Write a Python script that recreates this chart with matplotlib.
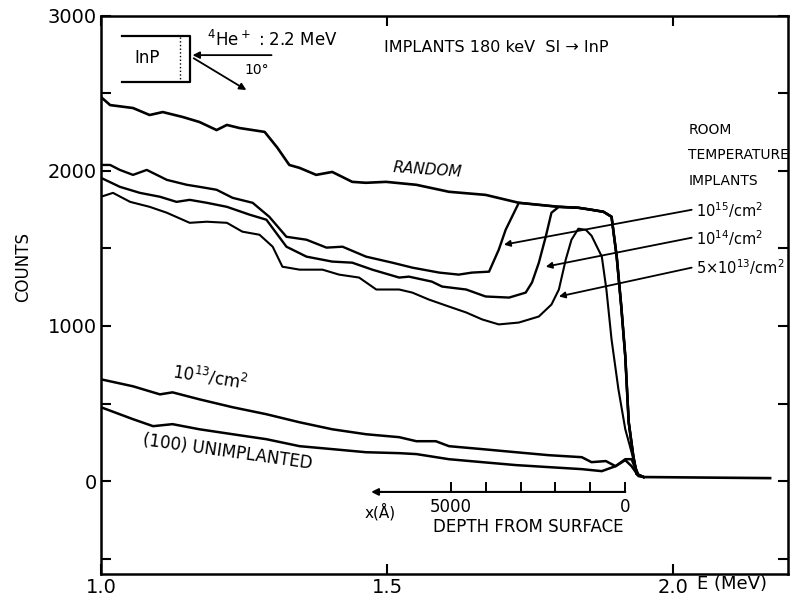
import matplotlib.pyplot as plt

# backscattering spectra: energy (MeV) and counts
random_E = [1.000, 1.016, 1.056, 1.085, 1.108, 1.143, 1.172, 1.202, 1.220, 1.242,
            1.286, 1.308, 1.329, 1.347, 1.376, 1.404, 1.439, 1.463, 1.498, 1.551,
            1.608, 1.672, 1.730, 1.765, 1.800, 1.834, 1.857, 1.878, 1.892, 1.901,
            1.909, 1.916, 1.922, 1.930, 1.936, 1.948, 2.169]
random_C = [2476, 2424, 2405, 2360, 2379, 2347, 2315, 2263, 2296, 2276,
            2251, 2150, 2038, 2019, 1974, 1993, 1929, 1923, 1929, 1910,
            1865, 1845, 1794, 1781, 1768, 1762, 1749, 1736, 1704, 1447,
            1125, 804, 379, 161, 45, 26, 19]

dose15_E = [1.000, 1.016, 1.033, 1.056, 1.080, 1.115, 1.150, 1.172, 1.202, 1.230,
            1.265, 1.294, 1.324, 1.359, 1.394, 1.422, 1.463, 1.509, 1.544, 1.591,
            1.625, 1.648, 1.678, 1.695, 1.707, 1.730, 1.765, 1.800, 1.834, 1.857,
            1.878, 1.892, 1.901, 1.909, 1.916, 1.922, 1.930, 1.936, 1.948]
dose15_C = [2038, 2038, 2006, 1974, 2006, 1942, 1910, 1897, 1878, 1826,
            1794, 1704, 1575, 1556, 1505, 1511, 1447, 1408, 1376, 1344,
            1331, 1344, 1350, 1492, 1620, 1794, 1781, 1768, 1762, 1749,
            1736, 1704, 1447, 1125, 804, 379, 161, 45, 26]

dose14_E = [1.000, 1.033, 1.068, 1.103, 1.132, 1.155, 1.185, 1.220, 1.260, 1.289,
            1.324, 1.359, 1.404, 1.439, 1.474, 1.521, 1.538, 1.578, 1.596, 1.638,
            1.672, 1.713, 1.742, 1.753, 1.765, 1.777, 1.787, 1.800, 1.834, 1.857,
            1.878, 1.892, 1.901, 1.909, 1.916, 1.922, 1.930, 1.936, 1.948]
dose14_C = [1955, 1897, 1858, 1833, 1800, 1813, 1794, 1768, 1717, 1685,
            1511, 1447, 1415, 1408, 1363, 1312, 1318, 1286, 1254, 1235,
            1190, 1183, 1215, 1280, 1408, 1575, 1730, 1768, 1762, 1749,
            1736, 1704, 1447, 1125, 804, 379, 161, 45, 26]

dose5e13_E = [1.000, 1.021, 1.051, 1.085, 1.115, 1.155, 1.185, 1.220, 1.247, 1.277,
              1.300, 1.317, 1.347, 1.387, 1.416, 1.451, 1.481, 1.521, 1.544, 1.573,
              1.608, 1.638, 1.666, 1.695, 1.730, 1.765, 1.787, 1.800, 1.812, 1.822,
              1.834, 1.847, 1.857, 1.875, 1.883, 1.892, 1.904, 1.916, 1.927, 1.932,
              1.939, 1.948]
dose5e13_C = [1833, 1858, 1800, 1768, 1730, 1665, 1672, 1665, 1608, 1588,
              1511, 1382, 1363, 1363, 1331, 1312, 1235, 1235, 1215, 1170,
              1125, 1087, 1042, 1010, 1022, 1061, 1138, 1235, 1428, 1556,
              1627, 1620, 1582, 1447, 1235, 913, 592, 334, 186, 109,
              39, 26]

dose13_E = [1.000, 1.056, 1.103, 1.125, 1.172, 1.230, 1.289, 1.347, 1.404, 1.463,
            1.521, 1.551, 1.585, 1.608, 1.666, 1.725, 1.782, 1.840, 1.857, 1.882,
            1.899, 1.916, 1.927, 1.932, 1.939, 1.948]
dose13_C = [656, 611, 559, 572, 527, 476, 431, 379, 334, 302,
            283, 257, 257, 225, 206, 186, 167, 154, 122, 129,
            96, 141, 141, 96, 39, 26]

unimpl_E = [1.000, 1.056, 1.091, 1.125, 1.172, 1.230, 1.289, 1.347, 1.404, 1.463,
            1.521, 1.551, 1.608, 1.666, 1.725, 1.782, 1.840, 1.875, 1.899, 1.916,
            1.927, 1.939, 1.948]
unimpl_C = [476, 399, 354, 367, 334, 302, 270, 225, 206, 186,
            180, 174, 141, 122, 103, 90, 77, 64, 96, 135,
            96, 32, 26]

# depth scale under the spectra (angstrom)
depth_ticks = [0, 1000, 2000, 3000, 4000, 5000]
surface_E = 1.916
mev_per_angstrom = 0.061 / 1000

plt.rcParams['font.family'] = 'DejaVu Sans'

fig = plt.figure(figsize=(7.95, 6.05), dpi=100)
ax = fig.add_axes([0.127, 0.051, 0.864, 0.923])

ax.plot(random_E, random_C, color='k', lw=1.9)
ax.plot(dose15_E, dose15_C, color='k', lw=1.7)
ax.plot(dose14_E, dose14_C, color='k', lw=1.7)
ax.plot(dose5e13_E, dose5e13_C, color='k', lw=1.5)
ax.plot(dose13_E, dose13_C, color='k', lw=1.8)
ax.plot(unimpl_E, unimpl_C, color='k', lw=1.8)

ax.set_xlim(1.0, 2.2)
ax.set_ylim(-600, 3000)
ax.set_xticks([1.0, 1.5, 2.0])
ax.set_xticklabels(['1.0', '1.5', '2.0'])
ax.set_yticks([0, 1000, 2000, 3000])
ax.set_yticks([-500, 500, 1500, 2500], minor=True)
ax.tick_params(which='both', direction='in', top=True, right=True,
               length=7, width=1.5, labelsize=14, pad=3, colors='k')
for s in ax.spines.values():
    s.set_linewidth(1.8)

ax.set_ylabel('COUNTS', fontsize=12)
ax.yaxis.set_label_coords(-0.10, 0.55)
ax.text(0.868, -0.018, 'E (MeV)', transform=ax.transAxes, fontsize=13,
        ha='left', va='center')

# labels on the curves
ax.text(1.571, 2006, 'RANDOM', fontsize=11, style='italic', rotation=-4,
        ha='center', va='center')
ax.text(1.190, 669, '10$^{13}$/cm$^2$', fontsize=12, rotation=-9,
        ha='center', va='center')
ax.text(1.221, 186, '(100) UNIMPLANTED', fontsize=12, rotation=-8,
        ha='center', va='center')

ax.text(1.495, 2797, 'IMPLANTS 180 keV  SI \u2192 InP', fontsize=11.5,
        ha='left', va='center')
ax.text(2.026, 2263, 'ROOM', fontsize=10, ha='left', va='center')
ax.text(2.026, 2103, 'TEMPERATURE', fontsize=10, ha='left', va='center')
ax.text(2.026, 1936, 'IMPLANTS', fontsize=10, ha='left', va='center')

dose_labels = ['10$^{15}$/cm$^2$', '10$^{14}$/cm$^2$', '5\u00d710$^{13}$/cm$^2$']
label_C = [1749, 1569, 1376]
head_E = [1.704, 1.777, 1.800]
head_C = [1524, 1382, 1190]
for lab, lc, he, hc in zip(dose_labels, label_C, head_E, head_C):
    ax.text(2.040, lc, lab, fontsize=10.5, ha='left', va='center')
    ax.annotate('', xy=(he, hc), xytext=(2.032, lc),
                arrowprops=dict(arrowstyle='-|>', color='k', lw=1.3,
                                mutation_scale=9, shrinkA=0, shrinkB=0))

# target sketch in the top left corner
ax.plot([1.037, 1.155, 1.155, 1.037], [2868, 2868, 2572, 2572], color='k', lw=1.6)
ax.plot([1.138, 1.138], [2860, 2580], color='k', lw=1.0, ls=':')
ax.text(1.080, 2726, 'InP', fontsize=12, ha='center', va='center')
ax.annotate('', xy=(1.160, 2746), xytext=(1.298, 2746),
            arrowprops=dict(arrowstyle='-|>', color='k', lw=1.3,
                            mutation_scale=10, shrinkA=0, shrinkB=0))
ax.annotate('', xy=(1.254, 2521), xytext=(1.162, 2726),
            arrowprops=dict(arrowstyle='-|>', color='k', lw=1.3,
                            mutation_scale=10, shrinkA=0, shrinkB=0))
ax.text(1.185, 2842, '$^4$He$^+$ : 2.2 MeV', fontsize=12, ha='left', va='center')
ax.text(1.272, 2649, '10\u00b0', fontsize=10, ha='center', va='center')

# depth scale
depth_E = [surface_E - d * mev_per_angstrom for d in depth_ticks]
ax.annotate('', xy=(1.472, -70), xytext=(surface_E, -70),
            arrowprops=dict(arrowstyle='-|>', color='k', lw=1.5,
                            mutation_scale=10, shrinkA=0, shrinkB=0))
for e in depth_E:
    ax.plot([e, e], [-70, -15], color='k', lw=1.4)
ax.text(depth_E[0], -167, '0', fontsize=12, ha='center', va='center')
ax.text(depth_E[5], -167, '5000', fontsize=12, ha='center', va='center')
ax.text(1.488, -200, 'x(\u00c5)', fontsize=11, ha='center', va='center')
ax.text(1.747, -296, 'DEPTH FROM SURFACE', fontsize=12, ha='center', va='center')

fig.savefig('out.png', dpi=100)
